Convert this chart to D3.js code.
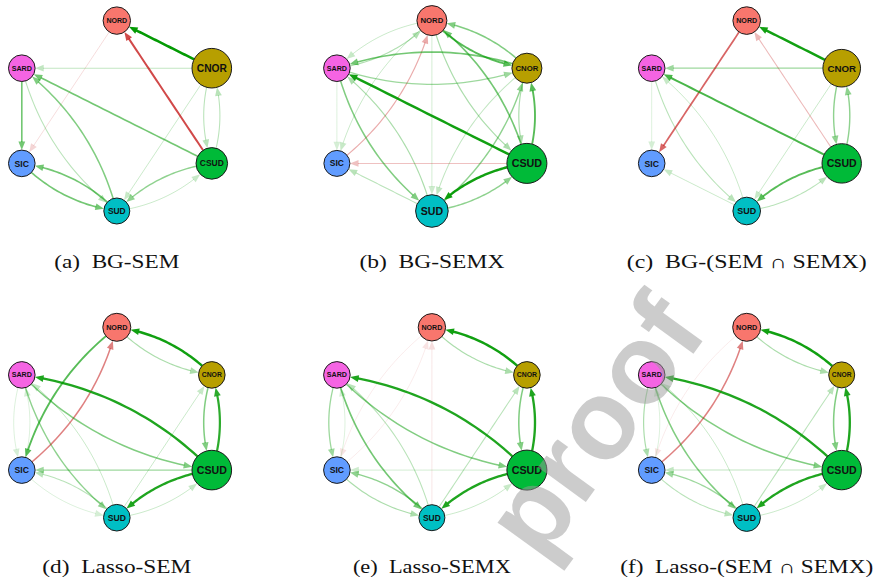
<!DOCTYPE html>
<html><head><meta charset="utf-8">
<script src="https://cdn.jsdelivr.net/npm/d3@7"></script>
<style>body{margin:0;background:#fff}</style>
</head><body>
<svg id="chart" width="877" height="582"></svg>
<script>
// ---------------- data ----------------
const nodes = ["NORD", "CNOR", "CSUD", "SUD", "SIC", "SARD"];
const nodeAngles = [90, 30, -30, -90, -150, 150];            // circle layout
const nodeColors = ["#F8766D", "#B79F00", "#00BA38", "#00BFC4", "#619CFF", "#F564E3"];

const panelLetters = ["(a)", "(b)", "(c)", "(d)", "(e)", "(f)"];
const panelNames = ["BG-SEM", "BG-SEMX", "BG-(SEM \u2229 SEMX)",
                    "Lasso-SEM", "Lasso-SEMX", "Lasso-(SEM \u2229 SEMX)"];

// node sizes (order of `nodes`)
const sizesA = [13.7, 19.8, 15.8, 13.0, 13.3, 13.3];
const sizesB = [15.0, 15.0, 20.0, 16.3, 13.0, 13.3];
const sizesC = [13.8, 18.8, 19.7, 13.8, 13.3, 13.3];
const sizesD = [14.0, 13.3, 19.8, 13.3, 13.3, 13.3];
const sizesE = [13.7, 13.3, 20.0, 13.0, 13.3, 13.3];
const sizesF = [14.0, 13.0, 19.7, 13.7, 13.3, 13.3];

// edges: [from, to, signed weight]
const edgesA = [
  ["CNOR","NORD",0.9], ["CSUD","NORD",-0.65], ["CNOR","SARD",0.22],
  ["NORD","SIC",-0.15], ["SARD","SIC",0.5], ["CSUD","SARD",0.5],
  ["SUD","SARD",0.45], ["SARD","SUD",0.25], ["SUD","SIC",0.5], ["SIC","SUD",0.5],
  ["CSUD","SUD",0.4], ["SUD","CSUD",0.2], ["CNOR","CSUD",0.25], ["CSUD","CNOR",0.25],
  ["CNOR","SUD",0.2]
];
const edgesB = [
  ["NORD","SARD",0.2], ["SARD","NORD",0.28], ["CNOR","NORD",0.45], ["NORD","CNOR",0.6],
  ["SIC","NORD",-0.3], ["NORD","SIC",0.2], ["CSUD","NORD",0.5], ["NORD","CSUD",0.3],
  ["NORD","SUD",0.18], ["CNOR","SARD",0.5], ["SARD","CNOR",0.35], ["SARD","SIC",0.15],
  ["CSUD","SARD",0.85], ["SARD","SUD",0.45], ["SUD","SARD",0.3], ["CSUD","CNOR",0.6],
  ["CNOR","CSUD",0.3], ["CNOR","SUD",0.22], ["SUD","CNOR",0.4], ["CSUD","SIC",-0.22],
  ["SUD","SIC",0.25], ["CSUD","SUD",0.85], ["SUD","CSUD",0.4]
];
const edgesC = [
  ["CNOR","NORD",0.85], ["CNOR","SARD",0.35], ["NORD","SIC",-0.55], ["CSUD","NORD",-0.25],
  ["CSUD","SARD",0.65], ["SARD","SIC",0.15], ["SARD","SUD",0.25], ["SUD","SARD",0.2],
  ["SUD","SIC",0.2], ["CNOR","CSUD",0.4], ["CSUD","CNOR",0.4], ["CNOR","SUD",0.2],
  ["CSUD","SUD",0.6], ["SUD","CSUD",0.25]
];
const edgesD = [
  ["CNOR","NORD",0.85], ["NORD","CNOR",0.3], ["NORD","SIC",0.6], ["SIC","NORD",-0.45],
  ["CSUD","SARD",0.8], ["SARD","CSUD",0.45], ["SARD","SIC",0.15], ["SIC","SARD",0.15],
  ["SARD","SUD",0.4], ["SUD","SARD",0.2], ["CSUD","CNOR",0.75], ["CNOR","CSUD",0.45],
  ["CSUD","SIC",0.35], ["CSUD","SUD",0.8], ["SUD","CSUD",0.2], ["SUD","SIC",0.25],
  ["SIC","SUD",0.15], ["SUD","CNOR",0.2]
];
const edgesE = [
  ["CNOR","NORD",0.85], ["NORD","CNOR",0.3], ["CSUD","SARD",0.8], ["SARD","CSUD",0.45],
  ["CSUD","CNOR",0.8], ["CNOR","CSUD",0.45], ["CSUD","SUD",0.8], ["SUD","CSUD",0.2],
  ["CSUD","SIC",0.18], ["SUD","CNOR",0.25], ["SARD","SIC",0.35], ["SIC","SARD",0.15],
  ["SARD","SUD",0.5], ["SUD","SARD",0.25], ["SUD","SIC",0.4], ["SIC","SUD",0.3],
  ["NORD","SIC",-0.1], ["SIC","NORD",-0.1], ["SUD","NORD",-0.12]
];
const edgesF = [
  ["CNOR","NORD",0.85], ["NORD","CNOR",0.3], ["CSUD","SARD",0.8], ["SARD","CSUD",0.45],
  ["CSUD","CNOR",0.8], ["CNOR","CSUD",0.45], ["CSUD","SUD",0.8], ["SUD","CSUD",0.2],
  ["CSUD","SIC",0.22], ["SUD","CNOR",0.25], ["SIC","NORD",-0.45], ["NORD","SIC",-0.1],
  ["SARD","SIC",0.3], ["SIC","SARD",0.15], ["SARD","SUD",0.45], ["SUD","SARD",0.2],
  ["SUD","SIC",0.35], ["SIC","SUD",0.25]
];

const edgeSets = [edgesA, edgesB, edgesC, edgesD, edgesE, edgesF];
const sizeSets = [sizesA, sizesB, sizesC, sizesD, sizesE, sizesF];

// ---------------- layout ----------------
const colCenters = [116.8, 431.9, 746.7];
const rowCenters = [115.8, 422.5];
const layoutRx = 109.7, layoutRy = 95.2;
const captionBaselines = [268, 573];
const captionWidths = [125, 145, 240, 149, 158, 253];
const arrowLen = 8, arrowHalf = 3.4, curveK = 0.17;

const svg = d3.select("#chart");
const rScale = d3.scaleLinear().domain([0, 20]).range([0, 20]);
const opScale = d3.scaleLinear().domain([0, 1]).range([0, 1.1]).clamp(true);
const wScale = d3.scaleLinear().domain([0, 1]).range([0.5, 2.8]);

function bez(p0, p1, p2, t) {
  const u = 1 - t;
  return { x: u*u*p0.x + 2*u*t*p1.x + t*t*p2.x, y: u*u*p0.y + 2*u*t*p1.y + t*t*p2.y };
}
function solve(f, lo, hi) {
  const flo = f(lo);
  for (let i = 0; i < 40; i++) {
    const m = (lo + hi) / 2;
    if ((f(m) < 0) === (flo < 0)) lo = m; else hi = m;
  }
  return (lo + hi) / 2;
}
const dist = (a, b) => Math.hypot(a.x - b.x, a.y - b.y);
const lineGen = d3.line().x(d => d.x).y(d => d.y);

edgeSets.forEach((edges, i) => {
  const col = i % 3, row = Math.floor(i / 3);
  const cx = colCenters[col], cy = rowCenters[row];
  const x = d3.scaleLinear().domain([-1, 1]).range([cx - layoutRx, cx + layoutRx]);
  const y = d3.scaleLinear().domain([-1, 1]).range([cy + layoutRy, cy - layoutRy]);
  const g = svg.append("g");
  const pos = {};
  nodes.forEach((n, j) => {
    const a = nodeAngles[j] * Math.PI / 180;
    pos[n] = { x: x(Math.cos(a)), y: y(Math.sin(a)), r: rScale(sizeSets[i][j]), color: nodeColors[j], name: n };
  });
  const keys = new Set(edges.map(e => e[0] + ">" + e[1]));
  const sorted = edges.slice().sort((a, b) => Math.abs(a[2]) - Math.abs(b[2]));
  const eg = g.append("g");
  sorted.forEach(e => {
    const s = pos[e[0]], t = pos[e[1]], w = e[2];
    const curved = keys.has(e[1] + ">" + e[0]);
    const dx = t.x - s.x, dy = t.y - s.y;
    const k = curved ? curveK : 0;
    const p1 = { x: (s.x + t.x) / 2 - dy * k, y: (s.y + t.y) / 2 + dx * k };
    const ts = solve(tt => dist(bez(s, p1, t, tt), s) - s.r, 0, 0.5);
    const te = solve(tt => dist(bez(s, p1, t, tt), t) - t.r, 0.5, 1);
    const tip = bez(s, p1, t, te);
    const tb = solve(tt => dist(bez(s, p1, t, tt), tip) - arrowLen, 0.2, te);
    const base = bez(s, p1, t, tb);
    const pts = d3.range(0, 31).map(q => bez(s, p1, t, ts + (tb - ts) * q / 30));
    const colr = w > 0 ? "#009900" : "#BF0000";
    const op = opScale(Math.abs(w));
    eg.append("path").attr("d", lineGen(pts)).attr("fill", "none")
      .attr("stroke", colr).attr("stroke-opacity", op)
      .attr("stroke-width", wScale(Math.abs(w)));
    const ux = (tip.x - base.x) / arrowLen, uy = (tip.y - base.y) / arrowLen;
    const bx = tip.x - ux * (arrowLen + 0.6), by = tip.y - uy * (arrowLen + 0.6);
    eg.append("path")
      .attr("d", `M${tip.x},${tip.y}L${bx - uy*arrowHalf},${by + ux*arrowHalf}L${bx + uy*arrowHalf},${by - ux*arrowHalf}Z`)
      .attr("fill", colr).attr("fill-opacity", op);
  });
  const ng = g.append("g");
  nodes.forEach(n => {
    const p = pos[n];
    ng.append("circle").attr("cx", p.x).attr("cy", p.y).attr("r", p.r)
      .attr("fill", p.color).attr("stroke", "#1a1a1a").attr("stroke-width", 1);
    const txt = ng.append("text").attr("x", p.x).attr("y", p.y)
      .attr("text-anchor", "middle").attr("dy", "0.36em")
      .attr("font-family", "'Liberation Sans', Arial, sans-serif").attr("font-weight", "bold")
      .attr("font-size", 10).attr("fill", "#111").text(n);
    const tw = txt.node().getComputedTextLength();
    const fs = Math.min(10 * 1.52 * p.r / tw, 0.65 * p.r);
    txt.attr("font-size", fs);
  });
  svg.append("text").attr("x", cx).attr("y", captionBaselines[row])
    .attr("text-anchor", "middle")
    .attr("font-family", "'Liberation Serif', 'Times New Roman', serif")
    .attr("font-size", 18.5).attr("fill", "#111")
    .attr("textLength", captionWidths[i]).attr("lengthAdjust", "spacingAndGlyphs")
    .text(panelLetters[i] + "\u2002" + panelNames[i]);
});

// watermark
svg.append("text").attr("transform", "translate(598,428) rotate(-54)")
  .attr("text-anchor", "middle").attr("dy", "0.3em")
  .attr("font-family", "'Liberation Sans', Arial, sans-serif").attr("font-weight", "bold")
  .attr("font-size", 112).attr("fill", "#9a9a9a").attr("fill-opacity", 0.5)
  .text("proof");
</script>
</body></html>
